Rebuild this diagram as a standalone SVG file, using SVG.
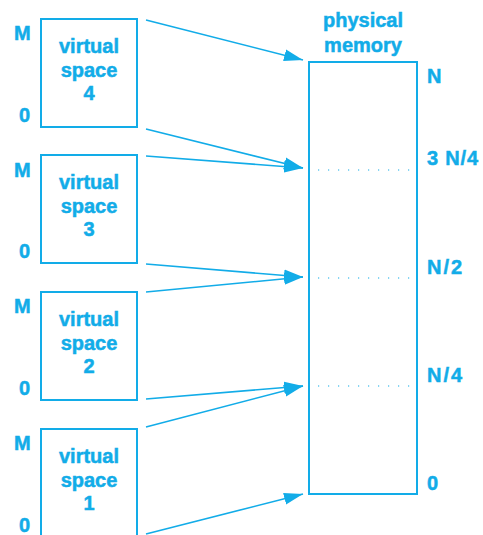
<svg xmlns="http://www.w3.org/2000/svg" width="483" height="535" viewBox="0 0 483 535">
<style>
text{font-family:"Liberation Sans",Arimo,Arial,Helvetica,sans-serif;font-weight:700;font-size:20px;fill:#12ace8;stroke:#12ace8;stroke-width:0.5}
.c{text-anchor:middle}
.box{fill:none;stroke:#12ace8;stroke-width:2}
.ar{stroke:#12ace8;stroke-width:1.6;fill:none;marker-end:url(#ah)}
.dot{stroke:#12ace8;stroke-width:1.2;stroke-dasharray:1.2 8.8}
.sp{letter-spacing:2px}
.sp1{letter-spacing:0.8px}
</style>
<defs>
<marker id="ah" markerWidth="20" markerHeight="13" refX="19" refY="6.5" orient="auto" markerUnits="userSpaceOnUse">
<path d="M0,0.5 L19,6.5 L0,12.5 Z" fill="#12ace8"/>
</marker>
</defs>
<g id="vs4" font-weight="bold">
<rect class="box" x="41" y="19" width="96" height="108"/>
<text class="c" x="89" y="53">virtual</text>
<text class="c" x="89" y="77">space</text>
<text class="c" x="89" y="100">4</text>
<text x="14" y="40">M</text>
<text x="19" y="122">0</text>
</g>
<g id="vs3" font-weight="bold">
<rect class="box" x="41" y="155" width="96" height="108"/>
<text class="c" x="89" y="189">virtual</text>
<text class="c" x="89" y="213">space</text>
<text class="c" x="89" y="236">3</text>
<text x="14" y="177">M</text>
<text x="19" y="258">0</text>
</g>
<g id="vs2" font-weight="bold">
<rect class="box" x="41" y="292" width="96" height="108"/>
<text class="c" x="89" y="326">virtual</text>
<text class="c" x="89" y="350">space</text>
<text class="c" x="89" y="373">2</text>
<text x="14" y="313">M</text>
<text x="19" y="395">0</text>
</g>
<g id="vs1" font-weight="bold">
<rect class="box" x="41" y="429" width="96" height="110"/>
<text class="c" x="89" y="463">virtual</text>
<text class="c" x="89" y="487">space</text>
<text class="c" x="89" y="510">1</text>
<text x="14" y="450">M</text>
<text x="19" y="532">0</text>
</g>
<g id="pm" font-weight="bold">
<text class="c" x="363" y="27">physical</text>
<text class="c" x="363" y="52">memory</text>
<rect class="box" x="309" y="62" width="108" height="432"/>
<line class="dot" x1="318" y1="170" x2="412" y2="170"/>
<line class="dot" x1="318" y1="278" x2="412" y2="278"/>
<line class="dot" x1="318" y1="386" x2="412" y2="386"/>
<text x="427" y="83">N</text>
<text x="427" y="165" class="sp1">3 N/4</text>
<text x="427" y="274" class="sp">N/2</text>
<text x="427" y="382" class="sp">N/4</text>
<text x="427" y="490">0</text>
</g>
<g id="connectors">
<line class="ar" x1="146" y1="20" x2="303" y2="60"/>
<line class="ar" x1="146" y1="129" x2="303" y2="168"/>
<line class="ar" x1="146" y1="156" x2="303" y2="168"/>
<line class="ar" x1="146" y1="264" x2="303" y2="277"/>
<line class="ar" x1="146" y1="292" x2="303" y2="277"/>
<line class="ar" x1="146" y1="399" x2="303" y2="386"/>
<line class="ar" x1="146" y1="427" x2="303" y2="386"/>
<line class="ar" x1="146" y1="534" x2="303" y2="494"/>
</g>
</svg>
